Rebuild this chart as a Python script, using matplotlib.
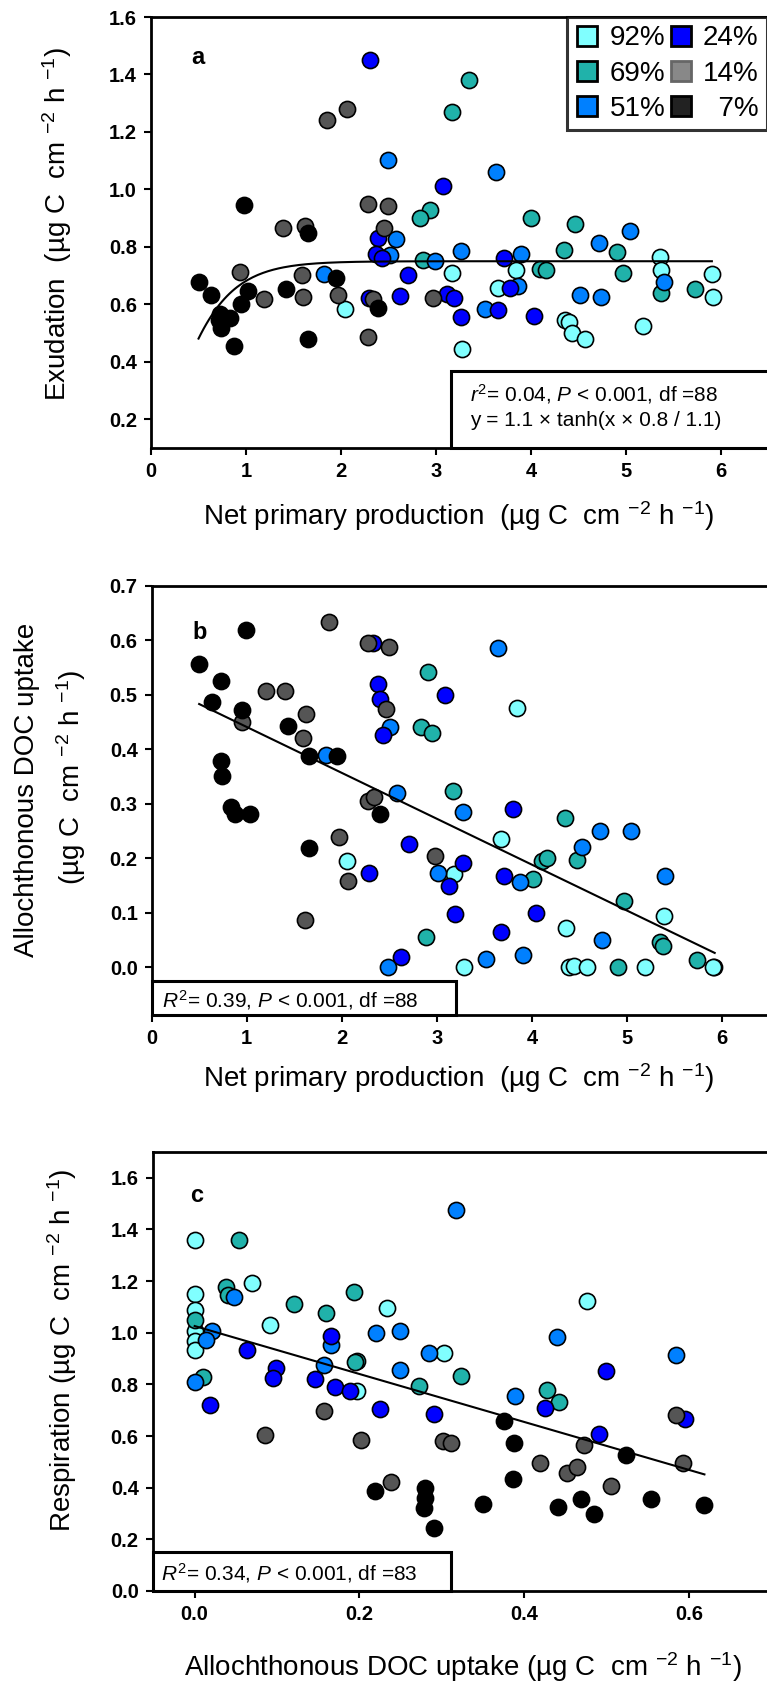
import numpy as np
import matplotlib
matplotlib.use('Agg')
import matplotlib.pyplot as plt
from matplotlib.lines import Line2D
from matplotlib.patches import Rectangle

plt.rcParams['font.family'] = ['Liberation Sans', 'DejaVu Sans']
plt.rcParams['mathtext.fontset'] = 'custom'
plt.rcParams['mathtext.rm'] = 'Liberation Sans'
plt.rcParams['mathtext.it'] = 'Liberation Sans:italic'
plt.rcParams['mathtext.bf'] = 'Liberation Sans:bold'

groups = ['92%', '69%', '51%', '24%', '14%', '7%']
colors = ['#80ffff', '#20b2aa', '#0080ff', '#0000ff', '#555555', '#000000']

# panel a: net primary production vs exudation
a_pts = {
    '92%': ([2.04, 3.17, 3.84, 3.65, 3.27, 4.36, 4.40, 4.43, 4.57, 5.18, 5.35, 5.37, 5.90, 5.91],
            [0.585, 0.710, 0.718, 0.658, 0.443, 0.544, 0.540, 0.499, 0.480, 0.524, 0.766, 0.719, 0.707, 0.625]),
    '69%': ([3.34, 3.17, 2.93, 2.83, 2.86, 4.00, 4.46, 4.34, 4.90, 4.96, 4.09, 4.15, 5.36, 5.72],
            [1.381, 1.268, 0.928, 0.900, 0.753, 0.899, 0.878, 0.789, 0.783, 0.710, 0.724, 0.718, 0.640, 0.652]),
    '51%': ([2.49, 2.58, 2.51, 1.82, 2.99, 3.63, 3.26, 3.89, 3.86, 3.51, 4.71, 5.04, 4.51, 4.73, 5.40],
            [1.102, 0.826, 0.770, 0.707, 0.750, 1.062, 0.785, 0.776, 0.663, 0.585, 0.812, 0.855, 0.634, 0.625, 0.679]),
    '24%': ([2.30, 3.07, 2.39, 2.37, 2.43, 2.70, 2.62, 2.29, 3.11, 3.19, 3.26, 3.65, 3.71, 3.78, 4.03],
            [1.451, 1.012, 0.832, 0.776, 0.762, 0.703, 0.629, 0.623, 0.635, 0.623, 0.555, 0.582, 0.760, 0.658, 0.561]),
    '14%': ([1.85, 2.06, 2.28, 2.49, 1.39, 1.62, 2.45, 0.94, 1.59, 1.19, 1.60, 1.97, 2.34, 2.28, 2.97],
            [1.242, 1.279, 0.948, 0.942, 0.866, 0.873, 0.866, 0.714, 0.702, 0.617, 0.625, 0.631, 0.617, 0.486, 0.621]),
    '7%': ([0.50, 0.63, 0.73, 0.83, 0.74, 0.87, 0.95, 1.02, 0.98, 1.42, 1.65, 1.65, 1.95, 2.39, 0.72],
           [0.677, 0.632, 0.565, 0.553, 0.518, 0.454, 0.600, 0.646, 0.946, 0.654, 0.847, 0.481, 0.693, 0.588, 0.545]),
}

# panel b: net primary production vs allochthonous DOC uptake
b_pts = {
    '92%': ([2.05, 3.18, 3.84, 3.67, 4.36, 5.39, 3.28, 4.39, 4.44, 4.58, 5.19, 5.91, 5.90],
            [0.195, 0.170, 0.476, 0.235, 0.071, 0.094, 0.0, 0.0, 0.002, 0.0, 0.0, 0.0, 0.0]),
    '69%': ([2.91, 2.83, 2.95, 2.88, 3.17, 4.35, 4.47, 4.10, 4.16, 4.01, 4.97, 5.35, 5.38, 4.90, 5.73],
            [0.541, 0.441, 0.429, 0.056, 0.324, 0.273, 0.197, 0.194, 0.200, 0.162, 0.122, 0.046, 0.039, 0.0, 0.013]),
    '51%': ([2.51, 1.83, 2.58, 2.49, 3.01, 3.64, 3.27, 3.87, 4.71, 5.04, 4.52, 5.40, 4.74, 3.52, 3.90],
            [0.441, 0.389, 0.319, 0.001, 0.172, 0.586, 0.285, 0.157, 0.250, 0.250, 0.221, 0.168, 0.049, 0.015, 0.022]),
    '24%': ([2.33, 2.38, 2.40, 2.43, 3.08, 2.71, 2.29, 2.62, 3.13, 3.80, 3.27, 3.19, 3.71, 4.04, 3.67],
            [0.594, 0.520, 0.492, 0.426, 0.499, 0.225, 0.172, 0.019, 0.148, 0.291, 0.191, 0.097, 0.167, 0.100, 0.065]),
    '14%': ([1.87, 2.28, 2.50, 1.20, 1.40, 1.62, 0.95, 1.59, 2.46, 2.28, 2.34, 1.97, 2.07, 1.61, 2.98],
            [0.634, 0.594, 0.588, 0.507, 0.507, 0.465, 0.450, 0.420, 0.474, 0.304, 0.312, 0.239, 0.158, 0.087, 0.203]),
    '7%': ([0.50, 0.99, 0.73, 0.63, 0.95, 1.43, 0.73, 0.74, 0.84, 0.88, 1.03, 1.66, 1.95, 2.40, 1.66],
           [0.556, 0.619, 0.525, 0.487, 0.472, 0.443, 0.378, 0.351, 0.293, 0.281, 0.281, 0.387, 0.388, 0.281, 0.219]),
}

# panel c: allochthonous DOC uptake vs respiration
c_pts = {
    '92%': ([0.0, 0.0, 0.0, 0.0, 0.0, 0.0, 0.070, 0.092, 0.234, 0.303, 0.476, 0.197],
            [1.359, 1.152, 1.090, 1.006, 0.967, 0.935, 1.194, 1.032, 1.097, 0.922, 1.123, 0.773]),
    '69%': ([0.054, 0.038, 0.041, 0.0, 0.010, 0.121, 0.159, 0.193, 0.197, 0.195, 0.272, 0.323, 0.428, 0.442],
            [1.359, 1.177, 1.148, 1.048, 0.829, 1.112, 1.075, 1.159, 0.890, 0.885, 0.795, 0.831, 0.780, 0.732]),
    '51%': ([0.0, 0.021, 0.014, 0.048, 0.166, 0.157, 0.220, 0.249, 0.284, 0.249, 0.317, 0.440, 0.389, 0.585],
            [0.810, 1.006, 0.971, 1.138, 0.954, 0.874, 1.0, 1.006, 0.920, 0.857, 1.476, 0.984, 0.756, 0.913]),
    '24%': ([0.019, 0.064, 0.099, 0.095, 0.146, 0.165, 0.170, 0.189, 0.225, 0.291, 0.425, 0.499, 0.491, 0.595],
            [0.721, 0.935, 0.864, 0.825, 0.822, 0.987, 0.789, 0.776, 0.706, 0.685, 0.709, 0.851, 0.608, 0.666]),
    '14%': ([0.085, 0.157, 0.202, 0.302, 0.311, 0.238, 0.473, 0.419, 0.452, 0.464, 0.506, 0.585, 0.593],
            [0.605, 0.698, 0.586, 0.582, 0.573, 0.424, 0.566, 0.495, 0.456, 0.480, 0.407, 0.683, 0.495]),
    '7%': ([0.219, 0.280, 0.280, 0.279, 0.291, 0.376, 0.388, 0.386, 0.350, 0.441, 0.469, 0.485, 0.524, 0.554, 0.618],
           [0.389, 0.400, 0.359, 0.323, 0.245, 0.657, 0.575, 0.434, 0.336, 0.324, 0.355, 0.297, 0.527, 0.355, 0.333]),
}

# fitted lines (as drawn)
fit_a = (0.75, 1.14)        # y = a*tanh(b*x/a)
fit_b = (0.525, -0.0843)    # intercept, slope
fit_c = (1.026, -0.928)

W, H = 767, 1688
fig = plt.figure(figsize=(W / 100, H / 100), dpi=100)

units = r'(µg C  cm $^{-2}$ h $^{-1}$)'


def px_axes(left, top, bottom, right=W):
    return fig.add_axes([left / W, 1 - bottom / H, (right - left) / W, (bottom - top) / H])


def style(ax):
    for s in ['left', 'bottom', 'top']:
        ax.spines[s].set_linewidth(2.0)
    ax.spines['right'].set_visible(False)
    ax.tick_params(direction='out', length=5, width=1.5, labelsize=14.5, pad=5,
                   top=False, right=False)
    for lab in ax.get_xticklabels() + ax.get_yticklabels():
        lab.set_fontweight('bold')


def scatter_groups(ax, pts):
    for g, c in zip(groups, colors):
        x, y = pts[g]
        ax.scatter(x, y, s=135, c=c, edgecolors='black', linewidths=1.2, zorder=3)


def stat_box(ax, x0, y0, w, h):
    ax.add_patch(Rectangle((x0, y0), w, h, transform=ax.transAxes, facecolor='white',
                           edgecolor='black', lw=2.2, clip_on=False, zorder=5))


# ---- panel a ----
ax = px_axes(151, 17, 448)
scatter_groups(ax, a_pts)
xf = np.linspace(0.5, 5.9, 200)
ax.plot(xf, fit_a[0] * np.tanh(fit_a[1] * xf / fit_a[0]), color='black', lw=1.5, zorder=4)
ax.set_xlim(0, 6.48)
ax.set_ylim(0.1, 1.6)
ax.set_xticks(range(0, 7))
ax.set_yticks(np.arange(0.2, 1.61, 0.2))
ax.set_yticklabels([f'{v:.1f}' for v in np.arange(0.2, 1.61, 0.2)])
style(ax)
ax.text(0.076, 0.905, 'a', transform=ax.transAxes, fontsize=17, fontweight='bold',
        ha='center', va='center')
stat_box(ax, 0.487, 0.0, 0.6, 0.179)
ax.text(0.518, 0.125, r'$\mathit{r}^{2}$= 0.04, $\mathit{P}$ < 0.001, df =88',
        transform=ax.transAxes, fontsize=15, va='center', zorder=6)
ax.text(0.518, 0.063, 'y = 1.1 × tanh(x × 0.8 / 1.1)',
        transform=ax.transAxes, fontsize=15, va='center', zorder=6)
handles = []
for g, c in zip(groups, colors):
    ec = '#666666' if g == '14%' else 'black'
    fc = '#888888' if g == '14%' else ('#222222' if g == '7%' else c)
    handles.append(Line2D([], [], marker='s', ls='', markersize=15, markerfacecolor=fc,
                          markeredgecolor=ec, markeredgewidth=2))
labels = ['92%', '69%', '51%', '24%', '14%', '  7%']
leg = ax.legend(handles, labels, ncol=2, loc='upper right', bbox_to_anchor=(1.0, 1.0),
                borderaxespad=0, fontsize=20, frameon=True, fancybox=False,
                handlelength=0.9, handletextpad=0.35, columnspacing=0.1,
                labelspacing=0.33, borderpad=0.3)
leg.get_frame().set_edgecolor('black')
leg.get_frame().set_linewidth(2.2)
leg.set_zorder(6)
fig.text(57 / W, 1 - 224 / H, 'Exudation  ' + units,
         rotation=90, ha='center', va='center', fontsize=20)
fig.text(459 / W, 1 - 516 / H, 'Net primary production  ' + units,
         ha='center', va='center', fontsize=20)

# ---- panel b ----
ax = px_axes(151.6, 585.7, 1015)
scatter_groups(ax, b_pts)
xf = np.linspace(0.5, 5.92, 50)
ax.plot(xf, fit_b[0] + fit_b[1] * xf, color='black', lw=1.5, zorder=4)
ax.set_xlim(0, 6.47)
ax.set_ylim(-0.088, 0.7)
ax.set_xticks(range(0, 7))
ax.set_yticks(np.arange(0, 0.71, 0.1))
ax.set_yticklabels([f'{v:.1f}' for v in np.arange(0, 0.71, 0.1)])
style(ax)
ax.text(0.078, 0.89, 'b', transform=ax.transAxes, fontsize=17, fontweight='bold',
        ha='center', va='center')
stat_box(ax, 0.0, 0.0, 0.4946, 0.079)
ax.text(0.017, 0.035, r'$\mathit{R}^{2}$= 0.39, $\mathit{P}$ < 0.001, df =88',
        transform=ax.transAxes, fontsize=15, va='center', zorder=6)
fig.text(27 / W, 1 - 790 / H, 'Allochthonous DOC uptake',
         rotation=90, ha='center', va='center', fontsize=20)
fig.text(71 / W, 1 - 777 / H, units,
         rotation=90, ha='center', va='center', fontsize=20)
fig.text(459 / W, 1 - 1078 / H, 'Net primary production  ' + units,
         ha='center', va='center', fontsize=20)

# ---- panel c ----
ax = px_axes(152.6, 1152, 1591)
scatter_groups(ax, c_pts)
xf = np.linspace(0.0, 0.619, 50)
ax.plot(xf, fit_c[0] + fit_c[1] * xf, color='black', lw=1.5, zorder=4)
ax.set_xlim(-0.0511, 0.695)
ax.set_ylim(0, 1.7)
ax.set_xticks([0, 0.2, 0.4, 0.6])
ax.set_xticklabels(['0.0', '0.2', '0.4', '0.6'])
ax.set_yticks(np.arange(0, 1.61, 0.2))
ax.set_yticklabels([f'{v:.1f}' for v in np.arange(0, 1.61, 0.2)])
style(ax)
ax.text(0.072, 0.90, 'c', transform=ax.transAxes, fontsize=17, fontweight='bold',
        ha='center', va='center')
stat_box(ax, 0.0, 0.0, 0.4857, 0.0888)
ax.text(0.013, 0.041, r'$\mathit{R}^{2}$= 0.34, $\mathit{P}$ < 0.001, df =83',
        transform=ax.transAxes, fontsize=15, va='center', zorder=6)
fig.text(62 / W, 1 - 1350 / H, 'Respiration ' + units,
         rotation=90, ha='center', va='center', fontsize=20)
fig.text(463 / W, 1 - 1667 / H, 'Allochthonous DOC uptake ' + units,
         ha='center', va='center', fontsize=20)

fig.savefig('out.png', dpi=100)
